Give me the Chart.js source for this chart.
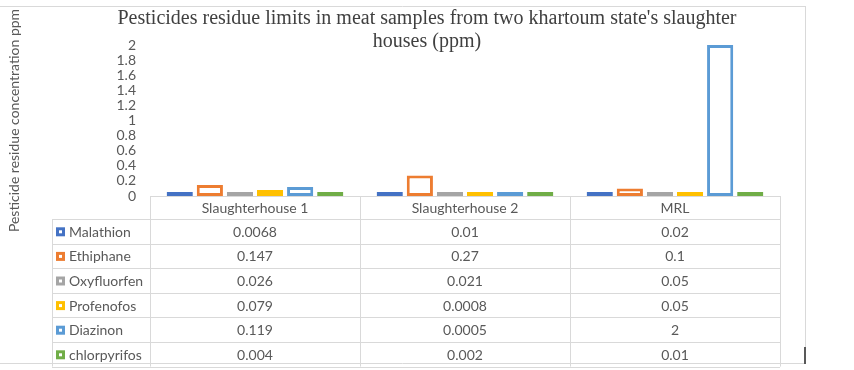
<!DOCTYPE html>
<html>
<head>
<meta charset="utf-8">
<script src="https://cdn.jsdelivr.net/npm/chart.js@4"></script>
<style>
  body { margin: 0; background: #fff; }
</style>
</head>
<body>
<canvas id="chart" width="854" height="370"></canvas>
<script>
const categories = ["Slaughterhouse 1", "Slaughterhouse 2", "MRL"];
const pesticides = ["Malathion", "Ethiphane", "Oxyfluorfen", "Profenofos", "Diazinon", "chlorpyrifos"];
const colors = ["#4472C4", "#ED7D31", "#A5A5A5", "#FFC000", "#5B9BD5", "#70AD47"];

const malathion    = [0.0068, 0.01, 0.02];
const ethiphane    = [0.147, 0.27, 0.1];
const oxyfluorfen  = [0.026, 0.021, 0.05];
const profenofos   = [0.079, 0.0008, 0.05];
const diazinon     = [0.119, 0.0005, 2];
const chlorpyrifos = [0.004, 0.002, 0.01];

const series = [malathion, ethiphane, oxyfluorfen, profenofos, diazinon, chlorpyrifos];
const textColor = "#595959";
const lineColor = "#d9d9d9";
const bodyFont = "Lato";

// data table under the plot, laid out from the x scale
const dataTable = {
  id: "dataTable",
  afterDraw(chart) {
    const { ctx, chartArea } = chart;
    const x = chart.scales.x;
    const step = x.getPixelForValue(1) - x.getPixelForValue(0);
    const left = x.getPixelForValue(0) - step / 2;
    const right = left + step * categories.length;
    const top = chartArea.bottom;
    const headH = 23, rowH = 24.6, labelLeft = 52;
    const bottom = top + headH + rowH * pesticides.length;

    ctx.save();
    ctx.strokeStyle = lineColor;
    ctx.lineWidth = 1;
    ctx.beginPath();
    ctx.moveTo(left, top + 0.5); ctx.lineTo(right, top + 0.5);
    for (let r = 0; r <= pesticides.length; r++) {
      const y = Math.round(top + headH + rowH * r) + 0.5;
      ctx.moveTo(labelLeft, y); ctx.lineTo(right, y);
    }
    for (let c = 0; c <= categories.length; c++) {
      const xx = Math.round(left + step * c) + 0.5;
      ctx.moveTo(xx, top); ctx.lineTo(xx, bottom);
    }
    ctx.moveTo(labelLeft + 0.5, top + headH); ctx.lineTo(labelLeft + 0.5, bottom);
    ctx.stroke();

    // outer frame of the chart object
    ctx.beginPath();
    ctx.moveTo(0, 6.5); ctx.lineTo(805, 6.5);
    ctx.moveTo(805.5, 6); ctx.lineTo(805.5, 364);
    ctx.moveTo(0, 363.5); ctx.lineTo(805, 363.5);
    ctx.stroke();
    ctx.fillStyle = "#595959";
    ctx.fillRect(804, 347, 2, 17);

    ctx.font = "14px " + bodyFont;
    ctx.fillStyle = textColor;
    ctx.textBaseline = "middle";
    ctx.textAlign = "center";
    categories.forEach((c, i) => {
      ctx.fillText(c, left + step * (i + 0.5), top + headH / 2 + 1);
    });
    pesticides.forEach((p, r) => {
      const yMid = top + headH + rowH * (r + 0.5) + 1;
      series[r].forEach((v, i) => {
        ctx.fillText(String(v), left + step * (i + 0.5), yMid);
      });
      // legend key
      ctx.fillStyle = colors[r];
      ctx.fillRect(56, yMid - 5, 9, 9);
      ctx.fillStyle = "#fff";
      ctx.fillRect(59, yMid - 2, 3, 3);
      ctx.fillStyle = textColor;
      ctx.textAlign = "left";
      ctx.fillText(p, 69, yMid);
      ctx.textAlign = "center";
    });
    ctx.restore();
  }
};

new Chart(document.getElementById("chart"), {
  type: "bar",
  data: {
    labels: categories,
    datasets: pesticides.map((p, i) => ({
      label: p,
      data: series[i],
      backgroundColor: "#ffffff",
      borderColor: colors[i],
      borderWidth: 3,
      borderSkipped: false,
      minBarLength: 4,
      categoryPercentage: 0.86,
      barPercentage: 0.87,
    })),
  },
  options: {
    responsive: false,
    animation: false,
    layout: { padding: { left: 0, right: 0, top: 0, bottom: 174 } },
    scales: {
      x: { display: false },
      y: {
        min: 0,
        max: 2,
        grid: { display: false, drawTicks: false },
        border: { display: false },
        ticks: {
          stepSize: 0.2,
          autoSkip: false,
          padding: 14,
          color: textColor,
          font: { family: bodyFont, size: 14 },
          callback: (v) => String(Number(v.toFixed(1))),
        },
        title: {
          display: true,
          text: "Pesticide residue concentration ppm",
          color: textColor,
          font: { family: bodyFont, size: 14 },
          padding: { top: 6, bottom: 0 },
        },
        afterFit: (scale) => { scale.width = 150; },
      },
      // empty right axis only reserves the space right of the plot
      yRight: {
        position: "right",
        display: true,
        grid: { display: false },
        border: { display: false },
        ticks: { display: false },
        afterFit: (scale) => { scale.width = 74; },
      },
    },
    plugins: {
      legend: { display: false },
      tooltip: { enabled: false },
      title: {
        display: true,
        text: ["Pesticides residue limits in meat samples from two khartoum state's slaughter", "houses (ppm)"],
        color: "#404040",
        font: { family: "Liberation Serif", size: 20, weight: "normal", lineHeight: 1.15 },
        padding: { top: 7.5, bottom: -8.5 },
      },
    },
  },
  plugins: [dataTable],
});
</script>
</body>
</html>
